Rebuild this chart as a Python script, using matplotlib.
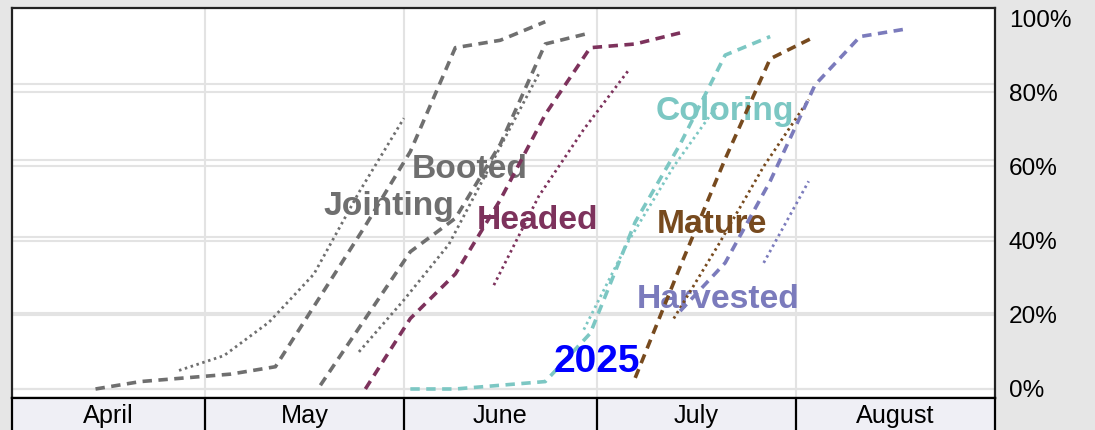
import pandas as pd
import matplotlib.pyplot as plt

plt.rcParams['font.family'] = ['Liberation Sans', 'DejaVu Sans']

# data: 2025 weekly progress (release Mondays) and average (week-ending Sundays)
jointing_dates = ['2025-04-14', '2025-04-21', '2025-04-28', '2025-05-05', '2025-05-12', '2025-05-19',
                  '2025-05-26', '2025-06-02', '2025-06-09', '2025-06-16', '2025-06-23']
jointing_2025 = [0, 2, 3, 4, 6, 25, 44, 64, 92, 94, 99]
jointing_avg_dates = ['2025-04-27', '2025-05-04', '2025-05-11', '2025-05-18', '2025-05-25', '2025-06-01']
jointing_avg = [5, 9, 18, 31, 53, 73]

booted_dates = ['2025-05-19', '2025-05-26', '2025-06-02', '2025-06-09', '2025-06-16', '2025-06-23', '2025-06-30']
booted_2025 = [1, 19, 37, 46, 66, 93, 96]
booted_avg_dates = ['2025-05-25', '2025-06-01', '2025-06-08', '2025-06-15', '2025-06-22']
booted_avg = [10, 24, 39, 62, 85]

headed_dates = ['2025-05-26', '2025-06-02', '2025-06-09', '2025-06-16', '2025-06-23', '2025-06-30',
                '2025-07-07', '2025-07-14']
headed_2025 = [0, 19, 31, 51, 74, 92, 93, 96]
headed_avg_dates = ['2025-06-15', '2025-06-22', '2025-06-29', '2025-07-06']
headed_avg = [28, 52, 70, 86]

coloring_dates = ['2025-06-02', '2025-06-09', '2025-06-16', '2025-06-23', '2025-06-30', '2025-07-07',
                  '2025-07-14', '2025-07-21', '2025-07-28']
coloring_2025 = [0, 0, 1, 2, 15, 45, 66, 90, 95]
coloring_avg_dates = ['2025-06-29', '2025-07-06', '2025-07-13', '2025-07-20']
coloring_avg = [16, 40, 60, 77]

mature_dates = ['2025-07-07', '2025-07-14', '2025-07-21', '2025-07-28', '2025-08-04']
mature_2025 = [3, 33, 62, 89, 95]
mature_avg_dates = ['2025-07-13', '2025-07-20', '2025-07-27', '2025-08-03']
mature_avg = [19, 39, 60, 78]

harvested_dates = ['2025-07-14', '2025-07-21', '2025-07-28', '2025-08-04', '2025-08-11', '2025-08-18']
harvested_2025 = [21, 34, 56, 82, 95, 97]
harvested_avg_dates = ['2025-07-27', '2025-08-03']
harvested_avg = [34, 56]

months = ['April', 'May', 'June', 'July', 'August']
month_starts = ['2025-04-01', '2025-05-01', '2025-06-01', '2025-07-01', '2025-08-01', '2025-09-01']
y_ticks = [0, 20, 40, 60, 80, 100]

start = pd.Timestamp('2025-04-01')


def days(dates):
    return [(pd.Timestamp(d) - start).days for d in dates]


# label position (x in days, y in %)
stages = [
    ('Jointing', '#6f6f6f', jointing_dates, jointing_2025, jointing_avg_dates, jointing_avg, (58.6, 47)),
    ('Booted', '#6f6f6f', booted_dates, booted_2025, booted_avg_dates, booted_avg, (71.3, 57)),
    ('Headed', '#7d325c', headed_dates, headed_2025, headed_avg_dates, headed_avg, (81.8, 43)),
    ('Coloring', '#7cc7c3', coloring_dates, coloring_2025, coloring_avg_dates, coloring_avg, (110.9, 72.5)),
    ('Mature', '#774a1e', mature_dates, mature_2025, mature_avg_dates, mature_avg, (109.0, 42)),
    ('Harvested', '#7b7bbc', harvested_dates, harvested_2025, harvested_avg_dates, harvested_avg, (109.9, 21.8)),
]

W, H = 1095, 430
fig = plt.figure(figsize=(W / 100, H / 100), dpi=100, facecolor='#e6e6e6')
ax = fig.add_axes([12 / W, 1 - 398 / H, 983 / W, 390 / H])
ax.set_facecolor('white')
ax.set_xlim(0, 153)
ax.set_ylim(-2.43, 102.7)

# double horizontal grid lines
for v in y_ticks[:-1]:
    ax.axhline(v, color='#e3e3e3', lw=1.5, zorder=0)
    ax.axhline(v * 1.027, color='#e3e3e3', lw=1.5, zorder=0)
for d in days(month_starts[1:-1]):
    ax.axvline(d, color='#e3e3e3', lw=1.5, zorder=0)

for name, color, d25, v25, davg, vavg, (lx, ly) in stages:
    ax.plot(days(d25), v25, color=color, lw=2.6, dashes=(2.6, 1.8), zorder=3)
    ax.plot(days(davg), vavg, color=color, lw=2.0, dashes=(0.9, 1.3), zorder=3)
    ax.text(lx, ly, name, color=color, fontsize=24.2, fontweight='bold',
            ha='center', va='baseline', zorder=2)

ax.text(91, 4.6, '2025', color='#0000ff', fontsize=28, fontweight='bold',
        ha='center', va='baseline', zorder=4)

ax.yaxis.tick_right()
ax.set_yticks(y_ticks)
ax.set_yticklabels([f'{v}%' for v in y_ticks], fontsize=17.6)
ax.tick_params(axis='y', length=0, pad=10)
ax.set_xticks([])
for s in ax.spines.values():
    s.set_color('#222222')
    s.set_linewidth(1.6)

# month bar
mx = fig.add_axes([12 / W, -0.01, 983 / W, (1 - 398 / H) + 0.01])
mx.set_facecolor('#efeff5')
mx.set_xlim(0, 153)
mx.set_ylim(0, 1)
mx.set_xticks([])
mx.set_yticks([])
ms = days(month_starts)
for d in ms[1:-1]:
    mx.axvline(d, color='black', lw=1.6)
for i, m in enumerate(months):
    mx.text((ms[i] + ms[i + 1]) / 2, 0.31, m, ha='center', va='baseline', fontsize=18.2)
for s in mx.spines.values():
    s.set_color('black')
    s.set_linewidth(1.6)

fig.savefig('out.png', dpi=100, facecolor=fig.get_facecolor())
